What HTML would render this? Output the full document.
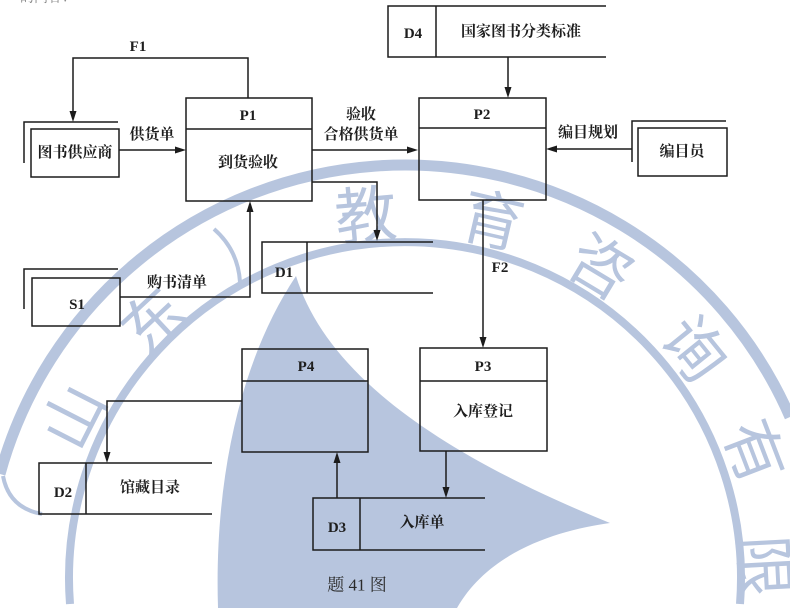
<!DOCTYPE html>
<html><head><meta charset="utf-8"><style>
html,body{margin:0;padding:0;background:#fff;width:790px;height:608px;overflow:hidden;}
svg{display:block;overflow:hidden;}
.l{stroke:#1c1c1c;stroke-width:1.5;fill:none;}
.a{fill:#1c1c1c;}
.t{font-family:"Liberation Serif","Noto Serif CJK SC",serif;font-size:15px;font-weight:bold;fill:#1e1e1e;}
.w{font-family:"Liberation Sans","Noto Sans CJK SC",sans-serif;font-size:62px;font-weight:400;fill:#b7c5de;}
</style></head><body>
<svg width="790" height="608" viewBox="0 0 790 608" xmlns="http://www.w3.org/2000/svg">
<rect width="790" height="608" fill="#fff"/>
<!-- watermark -->
<g>
<path d="M0,474 A420,420 0 0 1 790,417" fill="none" stroke="#b7c5de" stroke-width="11"/>
<path d="M70,604 A336,336 0 1 1 740,604" fill="none" stroke="#b7c5de" stroke-width="8"/>
<path d="M296,276 C325,370 430,450 610,523 C560,530 490,550 457,608 L218,608 C214,480 240,360 296,276 Z" fill="#b7c5de"/>
<path d="M214,229 Q238,250 240,282" fill="none" stroke="#b7c5de" stroke-width="4"/>
<path d="M3,476 Q9,508 42,514" fill="none" stroke="#b7c5de" stroke-width="4"/>
<text class="w" x="75" y="417" text-anchor="middle" dominant-baseline="central" transform="rotate(-63 75 417)">山</text>
<text class="w" x="155" y="322" text-anchor="middle" dominant-baseline="central" transform="rotate(-43 155 322)">东</text>
<text class="w" x="366" y="217" text-anchor="middle" dominant-baseline="central" transform="rotate(-5 366 217)">教</text>
<text class="w" x="492" y="222" text-anchor="middle" dominant-baseline="central" transform="rotate(13 492 222)">育</text>
<text class="w" x="600" y="268" text-anchor="middle" dominant-baseline="central" transform="rotate(31 600 268)">咨</text>
<text class="w" x="693" y="350" text-anchor="middle" dominant-baseline="central" transform="rotate(51 693 350)">询</text>
<text class="w" x="753" y="452" text-anchor="middle" dominant-baseline="central" transform="rotate(69 753 452)">有</text>
<text class="w" x="762" y="566" text-anchor="middle" dominant-baseline="central" transform="rotate(87 762 566)">限</text>
</g>

<!-- header cut text -->
<text x="20" y="2" font-family="Liberation Serif,Noto Serif CJK SC,serif" font-size="14" fill="#888">的内容：</text>

<!-- lines -->
<g class="l">
<path d="M248,98 V58 H73 V114"/>
<rect x="31" y="129" width="88" height="48"/>
<path d="M24,163 V122 H118"/>
<path d="M119,150 H177"/>
<rect x="186" y="98" width="126" height="103"/>
<path d="M186,129 H312"/>
<path d="M312,150 H409"/>
<path d="M312,182 H377 V232"/>
<rect x="419" y="98" width="127" height="102"/>
<path d="M419,128 H546"/>
<path d="M606,6 H388 V57 H606 M436,6 V57"/>
<path d="M508,57 V89"/>
<rect x="638" y="128" width="89" height="48"/>
<path d="M632,162 V121 H726"/>
<path d="M632,149 H555"/>
<path d="M483,200 V339"/>
<rect x="420" y="348" width="127" height="103"/>
<path d="M420,381 H547"/>
<path d="M446,451 V489"/>
<path d="M485,498 H313 V550 H485 M360,498 V550"/>
<path d="M337,498 V461"/>
<rect x="242" y="349" width="126" height="103"/>
<path d="M242,381 H368"/>
<path d="M242,401 H107 V454"/>
<path d="M212,463 H39 V514 H212 M86,463 V514"/>
<rect x="32" y="278" width="88" height="48"/>
<path d="M24,309 V269 H118"/>
<path d="M120,297 H250 V210"/>
<path d="M433,242 H262 V293 H433 M307,242 V293"/>
</g>

<!-- arrowheads -->
<g class="a">
<polygon points="69.5,111 76.5,111 73,122"/>
<polygon points="175,146.5 175,153.5 186,150"/>
<polygon points="407,146.5 407,153.5 418,150"/>
<polygon points="373.5,230 380.5,230 377,241"/>
<polygon points="504.5,87 511.5,87 508,98"/>
<polygon points="557,145.5 557,152.5 546,149"/>
<polygon points="479.5,337 486.5,337 483,348"/>
<polygon points="442.5,487 449.5,487 446,498"/>
<polygon points="333.5,463 340.5,463 337,452"/>
<polygon points="103.5,452 110.5,452 107,463"/>
<polygon points="246.5,212 253.5,212 250,201"/>
</g>

<!-- labels -->
<g class="t" text-anchor="middle" dominant-baseline="central">
<text x="138" y="47">F1</text>
<text x="75" y="153">图书供应商</text>
<text x="152" y="135">供货单</text>
<text x="248" y="116">P1</text>
<text x="248" y="163">到货验收</text>
<text x="361" y="115">验收</text>
<text x="361" y="135">合格供货单</text>
<text x="482" y="115">P2</text>
<text x="413" y="34">D4</text>
<text x="521" y="32">国家图书分类标准</text>
<text x="588" y="133">编目规划</text>
<text x="682" y="152">编目员</text>
<text x="284" y="273">D1</text>
<text x="77" y="305">S1</text>
<text x="177" y="283">购书清单</text>
<text x="500" y="268">F2</text>
<text x="306" y="367">P4</text>
<text x="483" y="367">P3</text>
<text x="483" y="412">入库登记</text>
<text x="63" y="493">D2</text>
<text x="150" y="488">馆藏目录</text>
<text x="337" y="528">D3</text>
<text x="422" y="523">入库单</text>
</g>
<text x="357" y="585" text-anchor="middle" dominant-baseline="central" font-family="Liberation Serif,Noto Serif CJK SC,serif" font-size="17" fill="#2a2a2a">题 41 图</text>
</svg>
</body></html>
